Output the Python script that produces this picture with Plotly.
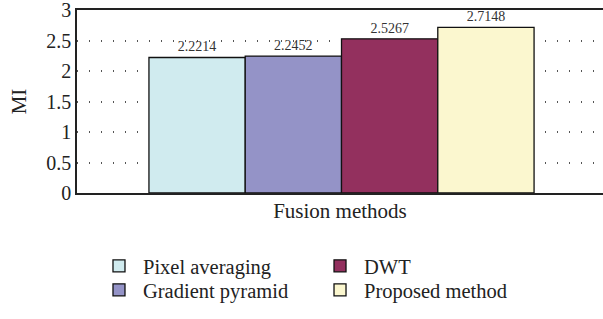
import plotly.graph_objects as go

methods = ["Pixel averaging", "Gradient pyramid", "DWT", "Proposed method"]
mi_values = [2.2214, 2.2452, 2.5267, 2.7148]
value_labels = ["2.2214", "2.2452", "2.5267", "2.7148"]
colors = ["#d0ebef", "#9493c7", "#93305e", "#fbf7cf"]
legend_ids = ["legend", "legend3", "legend2", "legend4"]
y_ticks = [0, 0.5, 1, 1.5, 2, 2.5, 3]
y_tick_text = ["0", "0.5", "1", "1.5", "2", "2.5", "3"]

FONT = "Liberation Serif"

fig = go.Figure()
for name, val, lab, col, lg in zip(methods, mi_values, value_labels, colors, legend_ids):
    fig.add_trace(go.Bar(
        name=name, x=[0], y=[val],
        text=[lab], textposition="outside",
        textfont=dict(family=FONT, size=14, color="#333333"),
        marker=dict(color=col, line=dict(color="#111111", width=1.3)),
        cliponaxis=False, legend=lg, hoverinfo="skip",
    ))

legend_common = dict(
    xanchor="left", yanchor="middle", orientation="v",
    font=dict(size=20.5), bgcolor="rgba(0,0,0,0)", tracegroupgap=0,
    itemclick=False, itemdoubleclick=False, itemwidth=38,
)
col1_x, col2_x = 0.0342, 0.4544
row1_y, row2_y = -0.399, -0.530

fig.update_layout(
    width=603, height=319,
    margin=dict(l=77, r=0, t=10, b=126, autoexpand=False),
    paper_bgcolor="white", plot_bgcolor="white",
    font=dict(family=FONT, size=20, color="#222222"),
    barmode="group", bargap=0.272, bargroupgap=0,
    xaxis=dict(
        range=[-0.5, 0.4943], showticklabels=False, ticks="",
        showgrid=False, zeroline=False, automargin=False,
        showline=True, linecolor="#222222", linewidth=1.5, mirror=True,
        title=dict(text="Fusion methods", standoff=10, font=dict(size=21)),
    ),
    yaxis=dict(
        range=[0, 3], tickvals=y_ticks, ticktext=y_tick_text,
        showgrid=True, gridcolor="#555555", gridwidth=1.5, griddash="1px,11px",
        zeroline=False, showline=True, linecolor="#222222", linewidth=1.5,
        ticks="", ticklen=0, automargin=False, ticklabeloverflow="allow",
        title=dict(text="MI", standoff=14, font=dict(size=21)),
        tickfont=dict(size=20),
    ),
    legend=dict(x=col1_x, y=row1_y, **legend_common),
    legend3=dict(x=col1_x, y=row2_y, **legend_common),
    legend2=dict(x=col2_x, y=row1_y, **legend_common),
    legend4=dict(x=col2_x, y=row2_y, **legend_common),
    showlegend=True,
    hovermode=False,
)

fig.write_html(
    "out.html",
    config={"displayModeBar": False},
    post_script="document.body.style.margin='0';",
)
